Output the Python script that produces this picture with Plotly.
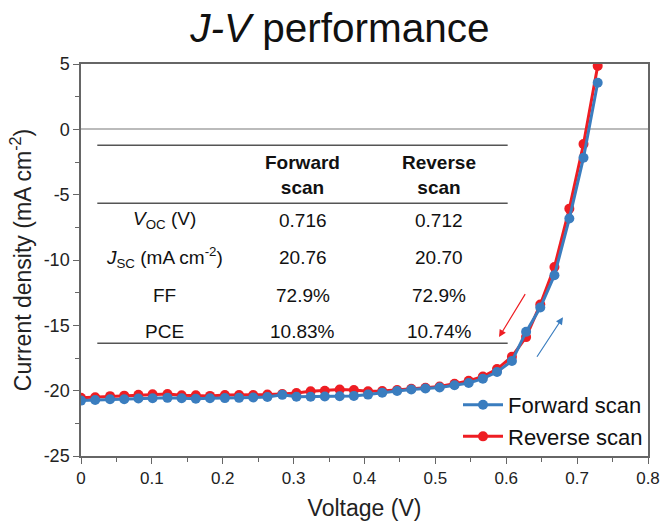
import plotly.graph_objects as go

# Scan voltages (V)
voltage = [0.000, 0.020, 0.041, 0.061, 0.081, 0.101, 0.122, 0.142, 0.162, 0.182,
           0.203, 0.223, 0.243, 0.263, 0.284, 0.304, 0.324, 0.344, 0.365, 0.385,
           0.405, 0.425, 0.446, 0.466, 0.486, 0.506, 0.527, 0.547, 0.567, 0.587,
           0.608, 0.628, 0.648, 0.668, 0.689, 0.709, 0.729]

# Current density (mA cm^-2), forward scan
j_forward = [-20.76, -20.72, -20.66, -20.66, -20.60, -20.58, -20.55, -20.58, -20.62, -20.58,
             -20.57, -20.55, -20.52, -20.48, -20.32, -20.47, -20.46, -20.44, -20.43, -20.40,
             -20.30, -20.15, -20.02, -19.91, -19.84, -19.76, -19.59, -19.41, -19.08, -18.57,
             -17.73, -15.50, -13.64, -11.17, -6.83, -2.17, 3.57]

# Current density (mA cm^-2), reverse scan
j_reverse = [-20.55, -20.50, -20.42, -20.38, -20.32, -20.28, -20.25, -20.35, -20.35, -20.40,
             -20.33, -20.33, -20.33, -20.30, -20.25, -20.18, -20.05, -20.00, -19.92, -19.95,
             -20.05, -20.02, -19.95, -19.85, -19.78, -19.68, -19.48, -19.25, -18.92, -18.35,
             -17.40, -15.90, -13.40, -10.53, -6.07, -1.13, 4.85]

series_names = ["Forward scan", "Reverse scan"]
table_header = ["Forward<br>scan", "Reverse<br>scan"]
row_labels = ["<i>V</i><sub>OC</sub> (V)", "<i>J</i><sub>SC</sub> (mA cm<sup>-2</sup>)", "FF", "PCE"]
forward_params = ["0.716", "20.76", "72.9%", "10.83%"]
reverse_params = ["0.712", "20.70", "72.9%", "10.74%"]

x_ticks = [0, 0.1, 0.2, 0.3, 0.4, 0.5, 0.6, 0.7, 0.8]
x_tick_labels = ["0", "0.1", "0.2", "0.3", "0.4", "0.5", "0.6", "0.7", "0.8"]
y_ticks = [5, 0, -5, -10, -15, -20, -25]
y_tick_labels = ["5", "0", "-5", "-10", "-15", "-20", "-25"]

BLUE = "#3A7DBF"
RED = "#EE1D23"
FONT = "Arial, Liberation Sans, sans-serif"

fig = go.Figure()
fig.add_trace(go.Scatter(x=voltage, y=j_reverse, mode="lines+markers", name=series_names[1],
                         line=dict(color=RED, width=3), marker=dict(size=10, color=RED),
                         legendrank=2))
fig.add_trace(go.Scatter(x=voltage, y=j_forward, mode="lines+markers", name=series_names[0],
                         line=dict(color=BLUE, width=3), marker=dict(size=10, color=BLUE),
                         legendrank=1))

# Parameter table drawn inside the plot area
line_style = dict(color="#555555", width=1.6)
for yv in (-1.22, -5.66, -16.37):
    fig.add_shape(type="line", xref="x", yref="y", x0=0.023, x1=0.602, y0=yv, y1=yv, line=line_style)

col_label_x, col_fwd_x, col_rev_x = 0.1185, 0.3128, 0.5055
text_font = dict(family=FONT, size=19, color="#111111")
fig.add_annotation(x=col_fwd_x, y=-3.5, text="<b>" + table_header[0] + "</b>", showarrow=False,
                   font=text_font, xref="x", yref="y")
fig.add_annotation(x=col_rev_x, y=-3.5, text="<b>" + table_header[1] + "</b>", showarrow=False,
                   font=text_font, xref="x", yref="y")
row_y = [-6.95, -9.8, -12.7, -15.45]
for lbl, fv, rv, yv in zip(row_labels, forward_params, reverse_params, row_y):
    fig.add_annotation(x=col_label_x, y=yv, text=lbl, showarrow=False, font=text_font, xref="x", yref="y")
    fig.add_annotation(x=col_fwd_x, y=yv, text=fv, showarrow=False, font=text_font, xref="x", yref="y")
    fig.add_annotation(x=col_rev_x, y=yv, text=rv, showarrow=False, font=text_font, xref="x", yref="y")

# Scan direction arrows
fig.add_annotation(x=0.5898, y=-15.9, ax=0.628, ay=-12.5, xref="x", yref="y", axref="x", ayref="y",
                   text="", showarrow=True, arrowhead=2, arrowsize=1.2, arrowwidth=1.2, arrowcolor=RED)
fig.add_annotation(x=0.680, y=-14.38, ax=0.642, ay=-17.52, xref="x", yref="y", axref="x", ayref="y",
                   text="", showarrow=True, arrowhead=2, arrowsize=1.2, arrowwidth=1.2, arrowcolor=BLUE)

axis_common = dict(showline=True, linecolor="#666666", linewidth=1.5, mirror=True, showgrid=False,
                   ticks="outside", ticklen=6, tickwidth=1.2, tickcolor="#666666",
                   ticklabeloverflow="allow", automargin=False)

fig.update_layout(
    width=664, height=527,
    margin=dict(l=81, r=16, t=64, b=71, autoexpand=False),
    plot_bgcolor="white", paper_bgcolor="white",
    title=dict(text="<i>J-V</i> performance", x=0.512, xanchor="center", y=0.947, yanchor="middle",
               font=dict(family=FONT, size=40.5, color="#111111")),
    xaxis=dict(range=[0, 0.8], tickmode="array", tickvals=x_ticks, ticktext=x_tick_labels, zeroline=False,
               minor=dict(dtick=0.05, ticks="outside", ticklen=4, tickcolor="#666666"),
               tickfont=dict(family=FONT, size=17, color="#222222"),
               title=dict(text="Voltage (V)", font=dict(family=FONT, size=23, color="#222222"), standoff=13),
               **axis_common),
    yaxis=dict(range=[-25, 5], tickmode="array", tickvals=y_ticks, ticktext=y_tick_labels,
               zeroline=True, zerolinecolor="#BBBBBB", zerolinewidth=1.5,
               minor=dict(dtick=2.5, ticks="outside", ticklen=4, tickcolor="#666666"),
               tickfont=dict(family=FONT, size=18, color="#222222"),
               title=dict(text="Current density (mA cm<sup>-2</sup>)",
                          font=dict(family=FONT, size=23, color="#222222"), standoff=6),
               **axis_common),
    legend=dict(x=1.0, y=-0.005, xanchor="right", yanchor="bottom", bgcolor="rgba(0,0,0,0)",
                font=dict(family=FONT, size=22, color="#111111"), itemwidth=40, tracegroupgap=0),
    showlegend=True,
)

fig.write_html("out.html")
